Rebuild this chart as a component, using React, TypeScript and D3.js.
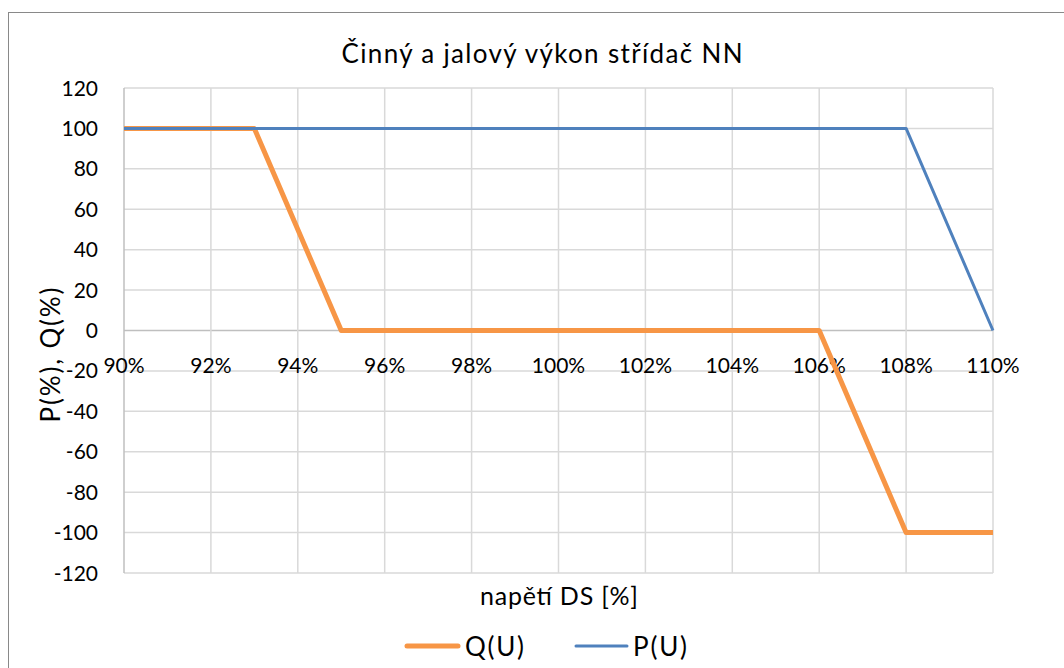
import React from "react";
import * as d3 from "d3";

const title = "Činný a jalový výkon střídač NN";
const xTitle = "napětí DS [%]";
const yTitle = "P(%), Q(%)";

const xTicks = [0.9, 0.92, 0.94, 0.96, 0.98, 1.0, 1.02, 1.04, 1.06, 1.08, 1.1];
const yTicks = [-120, -100, -80, -60, -40, -20, 0, 20, 40, 60, 80, 100, 120];

const qU = [0.9, 0.93, 0.95, 1.06, 1.08, 1.1];
const qVal = [100, 100, 0, 0, -100, -100];
const pU = [0.9, 1.08, 1.1];
const pVal = [100, 100, 0];

const seriesNames = ["Q(U)", "P(U)"];
const seriesColors = ["#F79646", "#4F81BD"];

const W = 1064;
const H = 668;
const FONT = "Lato, 'Open Sans', sans-serif";

export default function App() {
  const x = d3.scaleLinear().domain([0.9, 1.1]).range([124, 993]);
  const y = d3.scaleLinear().domain([-120, 120]).range([573, 88]);
  const line = d3
    .line<[number, number]>()
    .x((d) => x(d[0]))
    .y((d) => y(d[1]));
  const qData: [number, number][] = qU.map((u, i) => [u, qVal[i]]);
  const pData: [number, number][] = pU.map((u, i) => [u, pVal[i]]);
  const fmt = d3.format(".0%");

  return (
    <div style={{ position: "absolute", left: 0, top: 0 }}>
      <svg width={W} height={H} style={{ display: "block", fontFamily: FONT }}>
        <rect x={0} y={0} width={W} height={H} fill="#fff" />
        <rect x={8.5} y={12.5} width={W + 20} height={H + 20} fill="#fff" stroke="#898989" strokeWidth={1} />
        <text x={542} y={63} textAnchor="middle" fontSize={26} fill="#000" textLength={401} lengthAdjust="spacing">
          {title}
        </text>
        {/* grid */}
        {yTicks.map((t) => (
          <line key={"gy" + t} x1={x(0.9)} x2={x(1.1)} y1={y(t)} y2={y(t)} stroke={t === 0 ? "#BFBFBF" : "#D9D9D9"} strokeWidth={1.5} />
        ))}
        {xTicks.map((t) => (
          <line key={"gx" + t} x1={x(t)} x2={x(t)} y1={y(120)} y2={y(-120)} stroke={t === 0.9 ? "#BFBFBF" : "#D9D9D9"} strokeWidth={1.5} />
        ))}
        {/* y tick labels */}
        {yTicks.map((t) => (
          <text key={"ly" + t} x={98} y={y(t)} dy="0.36em" textAnchor="end" fontSize={21} fill="#000">
            {t}
          </text>
        ))}
        {/* x tick labels */}
        {xTicks.map((t) => (
          <text key={"lx" + t} x={x(t)} y={373} textAnchor="middle" fontSize={21} fill="#000">
            {fmt(t)}
          </text>
        ))}
        {/* series */}
        <path d={line(qData) || ""} fill="none" stroke={seriesColors[0]} strokeWidth={5} strokeLinejoin="round" />
        <path d={line(pData) || ""} fill="none" stroke={seriesColors[1]} strokeWidth={3} strokeLinejoin="round" />
        {/* axis titles */}
        <text x={559} y={605} textAnchor="middle" fontSize={25} fill="#000" textLength={158} lengthAdjust="spacing">
          {xTitle}
        </text>
        <text transform="translate(60,355) rotate(-90)" textAnchor="middle" fontSize={26} fill="#000" textLength={135} lengthAdjust="spacing">
          {yTitle}
        </text>
        {/* legend */}
        <line x1={407} x2={458} y1={646} y2={646} stroke={seriesColors[0]} strokeWidth={5} strokeLinecap="round" />
        <text x={465} y={656} fontSize={26} fill="#000" textLength={59} lengthAdjust="spacing">{seriesNames[0]}</text>
        <line x1={576} x2={627} y1={646} y2={646} stroke={seriesColors[1]} strokeWidth={3} strokeLinecap="round" />
        <text x={633} y={656} fontSize={26} fill="#000" textLength={54} lengthAdjust="spacing">{seriesNames[1]}</text>
      </svg>
    </div>
  );
}
